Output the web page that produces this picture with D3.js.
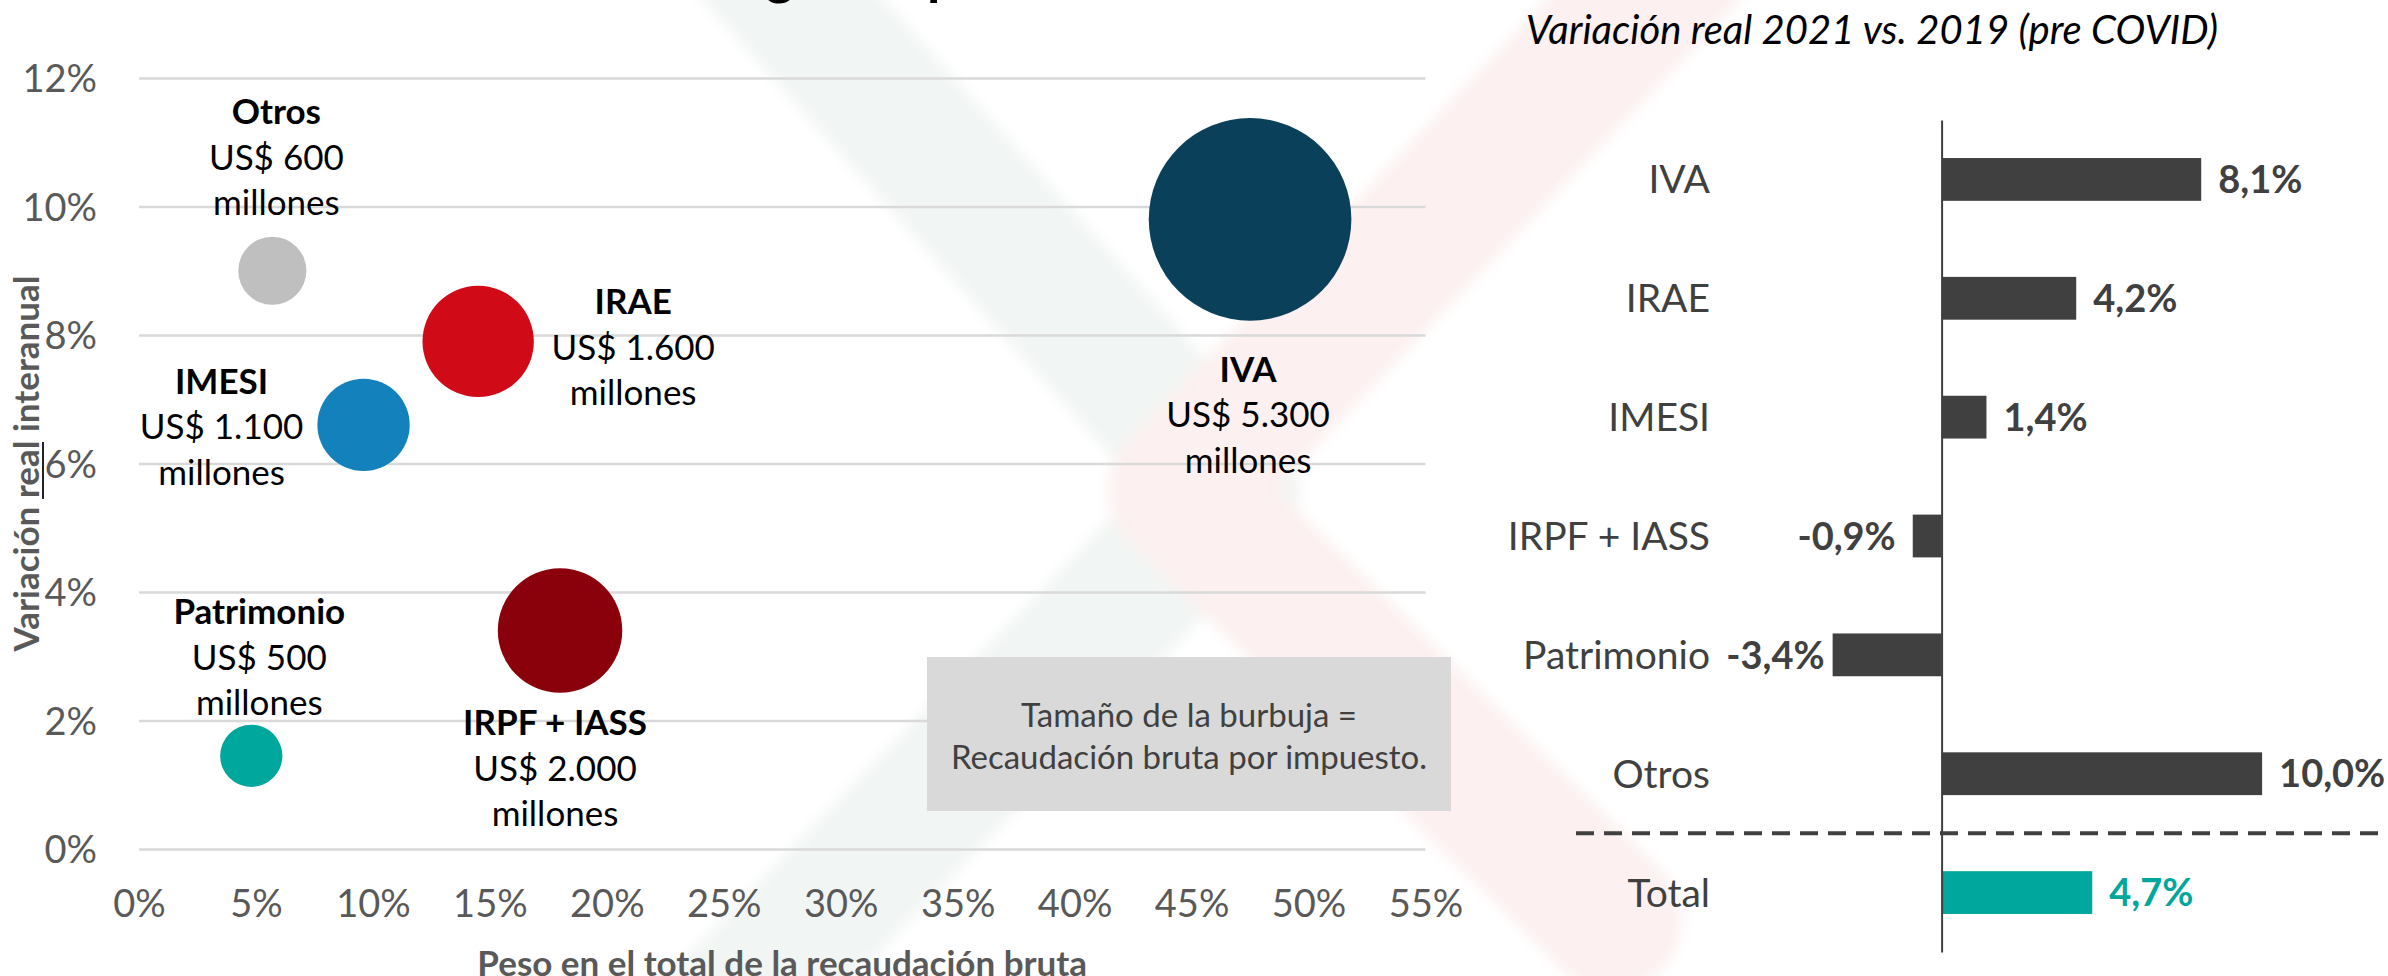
<!DOCTYPE html>
<html>
<head>
<meta charset="utf-8">
<script src="https://cdn.jsdelivr.net/npm/d3@7"></script>
<style>
    body { margin: 0; background: #fff; }
    svg { display: block; font-family: Lato, "Open Sans", sans-serif; }
</style>
</head>
<body>
<svg id="chart" width="2388" height="976"></svg>
<script>
// bubble chart: peso en la recaudación vs variación real interanual
var taxes = ['IVA', 'IRAE', 'IMESI', 'IRPF + IASS', 'Patrimonio', 'Otros'];
var share = [47.5, 14.5, 9.6, 18.0, 4.8, 5.7];          // % del total de la recaudación bruta
var growth = [9.8, 7.9, 6.6, 3.4, 1.45, 9.0];           // variación real interanual, %
var revenue = [5300, 1600, 1100, 2000, 500, 600];       // US$ millones
var xTicks = [0, 5, 10, 15, 20, 25, 30, 35, 40, 45, 50, 55];
var yTicks = [0, 2, 4, 6, 8, 10, 12];

// bar chart: variación real 2021 vs. 2019
var barCats = ['IVA', 'IRAE', 'IMESI', 'IRPF + IASS', 'Patrimonio', 'Otros', 'Total'];
var barValues = [8.1, 4.2, 1.4, -0.9, -3.4, 10.0, 4.7];

var bubbleColor = {
    'IVA': '#0b405b', 'IRAE': '#d00a16', 'IMESI': '#1281bc',
    'IRPF + IASS': '#8a000b', 'Patrimonio': '#00a79d', 'Otros': '#bfbfbf'
};
// where the three label lines sit relative to each bubble centre
var labelOffset = {
    'IVA': [-2, 150], 'IRAE': [155, -40], 'IMESI': [-142, -44],
    'IRPF + IASS': [-5, 92], 'Patrimonio': [8, -144], 'Otros': [4, -159]
};

var es = d3.formatLocale({decimal: ',', thousands: '.', grouping: [3], currency: ['US$ ', ''], minus: '-'});
var fmtMoney = es.format(',');
var fmtPct = es.format('.1f');

var svg = d3.select('#chart');

// faint logo in the background
svg.append('defs').append('filter')
    .attr('id', 'soft')
    .attr('x', '-20%').attr('y', '-20%').attr('width', '140%').attr('height', '140%')
    .append('feGaussianBlur').attr('stdDeviation', 7);
var bg = svg.append('g').attr('class', 'watermark').attr('filter', 'url(#soft)');
bg.append('path')
    .attr('d', d3.line()([[740, -60], [1232, 490], [700, 1040]]))
    .attr('fill', 'none').attr('stroke', '#f1f5f3').attr('stroke-width', 135)
    .attr('stroke-linejoin', 'round').attr('stroke-linecap', 'round');
bg.append('path')
    .attr('d', d3.line()([[1700, -60], [1178, 490], [1612, 920]]))
    .attr('fill', 'none').attr('stroke', '#fcf0f0').attr('stroke-width', 140)
    .attr('stroke-linejoin', 'round').attr('stroke-linecap', 'round');

// title cut off by the top edge
svg.append('text')
    .attr('x', 395).attr('y', -6)
    .style('font-size', '54px').style('font-weight', 'bold')
    .text('Recaudación según impuesto');

/* ---------- bubble chart ---------- */
var x = d3.scaleLinear().domain([0, 55]).range([139, 1425.5]);
var y = d3.scaleLinear().domain([0, 12]).range([849, 78]);
var r = d3.scaleSqrt().domain([0, 5300]).range([0, 101.3]);

var yAxis = d3.axisLeft(y)
    .tickValues(yTicks)
    .tickFormat(function(d) { return d + '%'; })
    .tickSize(-(x.range()[1] - x.range()[0]))
    .tickPadding(42);
var gy = svg.append('g')
    .attr('transform', 'translate(' + x(0) + ',0)')
    .call(yAxis);
gy.select('.domain').remove();
gy.selectAll('line').attr('stroke', '#d9d9d9').attr('stroke-width', 2.5);
gy.selectAll('text')
    .attr('fill', '#595959').attr('dy', '0.36em')
    .style('font-size', '38px').style('font-family', 'Lato, sans-serif');

var xAxis = d3.axisBottom(x)
    .tickValues(xTicks)
    .tickFormat(function(d) { return d + '%'; })
    .tickSize(0);
var gx = svg.append('g')
    .attr('transform', 'translate(0,' + y(0) + ')')
    .call(xAxis);
gx.select('.domain').remove();
gx.selectAll('text')
    .attr('y', 54).attr('dy', '0.36em')
    .attr('fill', '#595959')
    .style('font-size', '38px').style('font-family', 'Lato, sans-serif');

svg.append('text')
    .attr('x', (x.range()[0] + x.range()[1]) / 2).attr('y', 963).attr('dy', '0.36em')
    .attr('text-anchor', 'middle').attr('fill', '#595959')
    .style('font-size', '35px').style('font-weight', 'bold')
    .text('Peso en el total de la recaudación bruta');

svg.append('text')
    .attr('transform', 'translate(26,' + ((y.range()[0] + y.range()[1]) / 2) + ') rotate(-90)')
    .attr('dy', '0.36em')
    .attr('text-anchor', 'middle').attr('fill', '#595959')
    .style('font-size', '35px').style('font-weight', 'bold')
    .text('Variación real interanual');

// stray cursor mark next to the 6% tick
svg.append('line')
    .attr('x1', 43).attr('x2', 43).attr('y1', 442).attr('y2', 499)
    .attr('stroke', '#222').attr('stroke-width', 2);

// note box
var note = svg.append('g');
note.append('rect')
    .attr('x', 927).attr('y', 657).attr('width', 524).attr('height', 154)
    .attr('fill', '#d9d9d9');
note.selectAll('text')
    .data(['Tamaño de la burbuja =', 'Recaudación bruta por impuesto.'])
    .enter().append('text')
        .attr('x', 1189)
        .attr('y', function(d, i) { return 715 + i * 42; })
        .attr('dy', '0.36em')
        .attr('text-anchor', 'middle').attr('fill', '#404040')
        .style('font-size', '33px')
        .text(function(d) { return d; });

var bubbles = taxes.map(function(t, i) {
    return {name: t, share: share[i], growth: growth[i], revenue: revenue[i]};
});

svg.append('g').selectAll('circle')
    .data(bubbles)
    .enter().append('circle')
        .attr('cx', function(d) { return x(d.share); })
        .attr('cy', function(d) { return y(d.growth); })
        .attr('r', function(d) { return r(d.revenue); })
        .attr('fill', function(d) { return bubbleColor[d.name]; });

var labels = svg.append('g').selectAll('g.lbl')
    .data(bubbles)
    .enter().append('g')
        .attr('class', 'lbl')
        .attr('transform', function(d) {
            var o = labelOffset[d.name];
            return 'translate(' + (x(d.share) + o[0]) + ',' + (y(d.growth) + o[1]) + ')';
        });
labels.each(function(d) {
    var lines = [d.name, 'US$ ' + fmtMoney(d.revenue), 'millones'];
    d3.select(this).selectAll('text')
        .data(lines)
        .enter().append('text')
            .attr('y', function(t, i) { return i * 45.5; })
            .attr('dy', '0.36em')
            .attr('text-anchor', 'middle').attr('fill', '#000')
            .style('font-size', '35px')
            .style('font-weight', function(t, i) { return i === 0 ? 'bold' : 'normal'; })
            .text(function(t) { return t; });
});

/* ---------- bar chart ---------- */
svg.append('text')
    .attr('x', 1872).attr('y', 30).attr('dy', '0.36em')
    .attr('text-anchor', 'middle').attr('fill', '#000')
    .style('font-size', '40px').style('font-style', 'italic')
    .text('Variación real 2021 vs. 2019 (pre COVID)');

var xb = d3.scaleLinear().domain([-4, 11]).range([1941.6 - 4 * 32.05, 1941.6 + 11 * 32.05]);
var yb = d3.scaleBand().domain(barCats).range([120, 952]).paddingInner(0.64).paddingOuter(0.32);

var bars = barCats.map(function(c, i) { return {cat: c, value: barValues[i]}; });

svg.append('g').selectAll('rect')
    .data(bars)
    .enter().append('rect')
        .attr('x', function(d) { return xb(Math.min(0, d.value)); })
        .attr('y', function(d) { return yb(d.cat); })
        .attr('width', function(d) { return Math.abs(xb(d.value) - xb(0)); })
        .attr('height', yb.bandwidth())
        .attr('fill', function(d) { return d.cat === 'Total' ? '#00a79d' : '#404040'; });

var gb = svg.append('g')
    .attr('transform', 'translate(' + xb(0) + ',0)')
    .call(d3.axisLeft(yb).tickSize(0).tickPadding(xb(0) - 1710));
gb.select('.domain').attr('stroke', '#404040').attr('stroke-width', 2);
gb.selectAll('text')
    .attr('fill', '#404040').attr('dy', '0.36em')
    .style('font-size', '39px').style('font-family', 'Lato, sans-serif');

// separator between the taxes and the total
var sepY = yb('Otros') + yb.bandwidth() / 2 + yb.step() / 2;
svg.append('line')
    .attr('x1', 1576).attr('x2', 2388).attr('y1', sepY).attr('y2', sepY)
    .attr('stroke', '#404040').attr('stroke-width', 4).attr('stroke-dasharray', '18,10');

var nudge = {'Patrimonio': 9};
svg.append('g').selectAll('text')
    .data(bars)
    .enter().append('text')
        .attr('x', function(d) {
            var gap = 17 - (nudge[d.cat] || 0);
            return d.value < 0 ? xb(d.value) - gap : xb(d.value) + gap;
        })
        .attr('y', function(d) { return yb(d.cat) + yb.bandwidth() / 2; })
        .attr('dy', '0.36em')
        .attr('text-anchor', function(d) { return d.value < 0 ? 'end' : 'start'; })
        .attr('fill', function(d) { return d.cat === 'Total' ? '#00a79d' : '#404040'; })
        .style('font-size', '38px').style('font-weight', 'bold')
        .text(function(d) { return fmtPct(d.value) + '%'; });
</script>
</body>
</html>
